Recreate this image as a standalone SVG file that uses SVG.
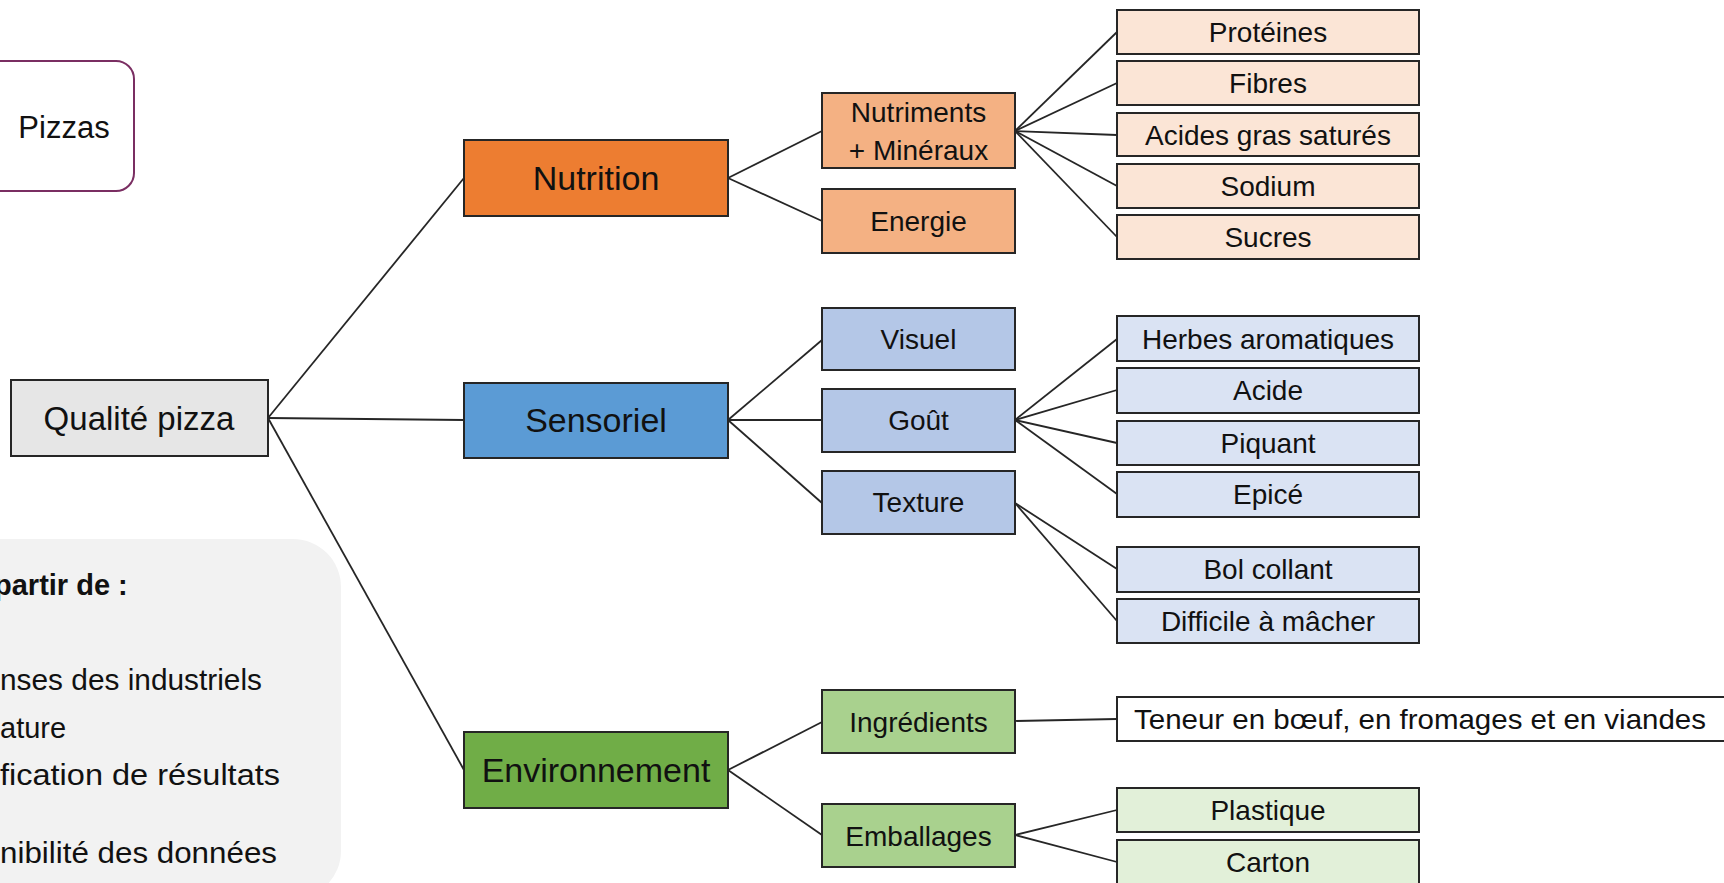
<svg xmlns="http://www.w3.org/2000/svg" width="1724" height="883" viewBox="0 0 1724 883">
<style>
text{font-family:"Liberation Sans",Arial,sans-serif;fill:#111;}
.b{stroke:#262626;stroke-width:2;}
.t1{font-size:34px;text-anchor:middle;}
.t2{font-size:28px;text-anchor:middle;}
.side{font-size:29px;}
.c line{stroke:#262626;stroke-width:1.8;fill:none;}
.n1{fill:#ED7D31}.n2{fill:#F4B183}.n3{fill:#FBE5D6}
.s1{fill:#5B9BD5}.s2{fill:#B4C7E7}.s3{fill:#DAE3F3}
.e1{fill:#70AD47}.e2{fill:#A9D18E}.e3{fill:#E2F0D9}
</style>
<rect width="1724" height="883" fill="#ffffff"/>

<g id="sources">
<rect x="-60" y="539" width="401" height="360" rx="48" fill="#F2F2F2"/>
<text class="side" x="-6" y="595" font-weight="bold">partir de :</text>
<text class="side" x="0" y="690" textLength="262" lengthAdjust="spacingAndGlyphs">nses des industriels</text>
<text class="side" x="0" y="738">ature</text>
<text class="side" x="0" y="785" textLength="280" lengthAdjust="spacingAndGlyphs">fication de résultats</text>
<text class="side" x="0" y="863" textLength="277" lengthAdjust="spacingAndGlyphs">nibilité des données</text>
</g>

<g id="pizzas">
<rect x="-40" y="61" width="174" height="130" rx="18" fill="#ffffff" stroke="#7A2E62" stroke-width="2"/>
<text x="64" y="138" font-size="31" text-anchor="middle">Pizzas</text>
</g>

<g class="c" id="connectors">
<line x1="268" y1="418" x2="464" y2="178"/>
<line x1="268" y1="418" x2="464" y2="420"/>
<line x1="268" y1="418" x2="464" y2="770"/>
<line x1="728" y1="178" x2="822" y2="131"/>
<line x1="728" y1="178" x2="822" y2="221"/>
<line x1="728" y1="420" x2="822" y2="340"/>
<line x1="728" y1="420" x2="822" y2="420"/>
<line x1="728" y1="420" x2="822" y2="503"/>
<line x1="728" y1="770" x2="822" y2="722"/>
<line x1="728" y1="770" x2="822" y2="835"/>
<line x1="1015" y1="131" x2="1117" y2="32"/>
<line x1="1015" y1="131" x2="1117" y2="83"/>
<line x1="1015" y1="131" x2="1117" y2="135"/>
<line x1="1015" y1="131" x2="1117" y2="186"/>
<line x1="1015" y1="131" x2="1117" y2="237"/>
<line x1="1015" y1="420" x2="1117" y2="339"/>
<line x1="1015" y1="420" x2="1117" y2="390"/>
<line x1="1015" y1="420" x2="1117" y2="443"/>
<line x1="1015" y1="420" x2="1117" y2="494"/>
<line x1="1015" y1="503" x2="1117" y2="569"/>
<line x1="1015" y1="503" x2="1117" y2="621"/>
<line x1="1015" y1="721" x2="1117" y2="719"/>
<line x1="1015" y1="835" x2="1117" y2="810"/>
<line x1="1015" y1="835" x2="1117" y2="862"/>
</g>

<g id="qualite">
<rect class="b" x="11" y="380" width="257" height="76" fill="#E6E6E6"/>
<text x="139" y="430" font-size="33" text-anchor="middle">Qualité pizza</text>
</g>

<g id="nutrition"><rect class="b n1" x="464" y="140" width="264" height="76"/><text class="t1" x="596" y="190">Nutrition</text></g>
<g id="sensoriel"><rect class="b s1" x="464" y="383" width="264" height="75"/><text class="t1" x="596" y="432">Sensoriel</text></g>
<g id="environnement"><rect class="b e1" x="464" y="732" width="264" height="76"/><text class="t1" x="596" y="782">Environnement</text></g>

<g id="nutriments"><rect class="b n2" x="822" y="93" width="193" height="75"/><text class="t2" x="918.5" y="122">Nutriments</text><text class="t2" x="918.5" y="160">+ Minéraux</text></g>
<g id="energie"><rect class="b n2" x="822" y="189" width="193" height="64"/><text class="t2" x="918.5" y="231">Energie</text></g>
<g id="visuel"><rect class="b s2" x="822" y="308" width="193" height="62"/><text class="t2" x="918.5" y="349">Visuel</text></g>
<g id="gout"><rect class="b s2" x="822" y="389" width="193" height="63"/><text class="t2" x="918.5" y="430">Goût</text></g>
<g id="texture"><rect class="b s2" x="822" y="471" width="193" height="63"/><text class="t2" x="918.5" y="512">Texture</text></g>
<g id="ingredients"><rect class="b e2" x="822" y="690" width="193" height="63"/><text class="t2" x="918.5" y="732">Ingrédients</text></g>
<g id="emballages"><rect class="b e2" x="822" y="804" width="193" height="63"/><text class="t2" x="918.5" y="846">Emballages</text></g>

<g id="proteines"><rect class="b n3" x="1117" y="10" width="302" height="44"/><text class="t2" x="1268" y="42">Protéines</text></g>
<g id="fibres"><rect class="b n3" x="1117" y="61" width="302" height="44"/><text class="t2" x="1268" y="93">Fibres</text></g>
<g id="acides-gras"><rect class="b n3" x="1117" y="113" width="302" height="43"/><text class="t2" x="1268" y="145">Acides gras saturés</text></g>
<g id="sodium"><rect class="b n3" x="1117" y="164" width="302" height="44"/><text class="t2" x="1268" y="196">Sodium</text></g>
<g id="sucres"><rect class="b n3" x="1117" y="215" width="302" height="44"/><text class="t2" x="1268" y="247">Sucres</text></g>

<g id="herbes"><rect class="b s3" x="1117" y="316" width="302" height="45"/><text class="t2" x="1268" y="349">Herbes aromatiques</text></g>
<g id="acide"><rect class="b s3" x="1117" y="368" width="302" height="45"/><text class="t2" x="1268" y="400">Acide</text></g>
<g id="piquant"><rect class="b s3" x="1117" y="421" width="302" height="44"/><text class="t2" x="1268" y="453">Piquant</text></g>
<g id="epice"><rect class="b s3" x="1117" y="472" width="302" height="45"/><text class="t2" x="1268" y="504">Epicé</text></g>
<g id="bol-collant"><rect class="b s3" x="1117" y="547" width="302" height="45"/><text class="t2" x="1268" y="579">Bol collant</text></g>
<g id="difficile"><rect class="b s3" x="1117" y="599" width="302" height="44"/><text class="t2" x="1268" y="631">Difficile à mâcher</text></g>

<g id="teneur"><rect class="b" x="1117" y="697" width="620" height="44" fill="#ffffff"/><text x="1134" y="729" font-size="28" textLength="572" lengthAdjust="spacingAndGlyphs">Teneur en bœuf, en fromages et en viandes</text></g>
<g id="plastique"><rect class="b e3" x="1117" y="788" width="302" height="44"/><text class="t2" x="1268" y="820">Plastique</text></g>
<g id="carton"><rect class="b e3" x="1117" y="840" width="302" height="44"/><text class="t2" x="1268" y="872">Carton</text></g>
</svg>
